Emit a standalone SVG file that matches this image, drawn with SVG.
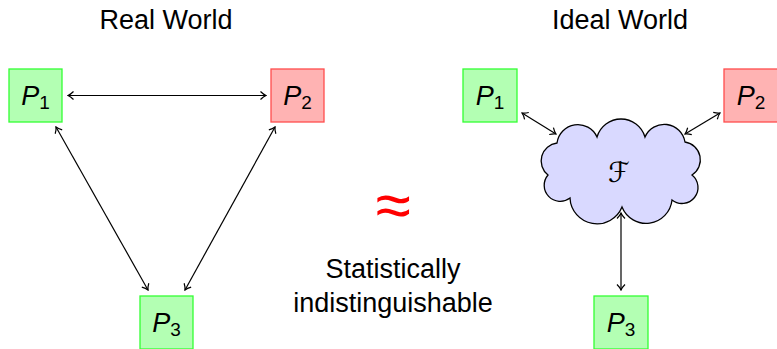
<svg xmlns="http://www.w3.org/2000/svg" width="777" height="349" viewBox="0 0 777 349">
<style>
text{font-family:"Liberation Sans","DejaVu Sans",sans-serif;fill:#000}
.title,.lbl{font-size:27px;text-anchor:middle}
.p{font-size:27px;text-anchor:middle}
.p .v{font-style:italic}
.p .s{font-size:19px}
.g{fill:#b3ffb3;stroke:#33ff33;stroke-width:1.3}
.r{fill:#ffb3b3;stroke:#ff4d4d;stroke-width:1.3}
.cloud{fill:#d9d9ff;stroke:#000;stroke-width:1.3}
.c{fill:none;stroke:#000;stroke-width:1.2}
</style>
<defs>
<marker id="ah" viewBox="-7 -5 8 10" refX="0" refY="0" markerWidth="8" markerHeight="10" markerUnits="userSpaceOnUse" orient="auto-start-reverse">
<path d="M-5.5,-4 C-3,-1.5 -1,-0.4 0,0 C-1,0.4 -3,1.5 -5.5,4" fill="none" stroke="#000" stroke-width="1.2"/>
</marker>
</defs>
<text class="title" x="166" y="29">Real World</text>
<text class="title" x="620" y="29">Ideal World</text>
<g id="connectors">
<line class="c" x1="68" y1="95.5" x2="266" y2="95.5" marker-start="url(#ah)" marker-end="url(#ah)"/>
<line class="c" x1="56" y1="127" x2="148" y2="290" marker-start="url(#ah)" marker-end="url(#ah)"/>
<line class="c" x1="275" y1="127" x2="185" y2="290" marker-start="url(#ah)" marker-end="url(#ah)"/>
<line class="c" x1="522" y1="113" x2="556" y2="134" marker-start="url(#ah)" marker-end="url(#ah)"/>
<line class="c" x1="720" y1="113" x2="685" y2="134" marker-start="url(#ah)" marker-end="url(#ah)"/>
<line class="c" x1="621" y1="213" x2="621" y2="290" marker-start="url(#ah)" marker-end="url(#ah)"/>
</g>
<g id="real-p1"><rect class="g" x="9" y="69" width="53" height="53"/><text class="p" x="35.5" y="105"><tspan class="v">P</tspan><tspan class="s" dy="4">1</tspan></text></g>
<g id="real-p2"><rect class="r" x="271" y="69" width="53" height="53"/><text class="p" x="297.5" y="105"><tspan class="v">P</tspan><tspan class="s" dy="4">2</tspan></text></g>
<g id="real-p3"><rect class="g" x="140" y="296" width="53" height="53"/><text class="p" x="166.5" y="332"><tspan class="v">P</tspan><tspan class="s" dy="4">3</tspan></text></g>
<g id="ideal-p1"><rect class="g" x="463" y="69" width="54" height="53"/><text class="p" x="490" y="105"><tspan class="v">P</tspan><tspan class="s" dy="4">1</tspan></text></g>
<g id="ideal-p2"><rect class="r" x="724" y="69" width="54" height="53"/><text class="p" x="751" y="105"><tspan class="v">P</tspan><tspan class="s" dy="4">2</tspan></text></g>
<g id="ideal-p3"><rect class="g" x="594" y="296" width="54" height="53"/><text class="p" x="621" y="332"><tspan class="v">P</tspan><tspan class="s" dy="4">3</tspan></text></g>
<g id="functionality">
<path class="cloud" d="M557,143 A21,21 0 0 1 597,137 A25,25 0 0 1 645,137 A21,21 0 0 1 685,142 A18,18 0 0 1 692,175 A16,16 0 0 1 672,200 A26,26 0 0 1 622,207 A27,27 0 0 1 570,198 A16,16 0 0 1 548,175 A18,18 0 0 1 557,143 Z"/>
<text x="619" y="182" style="font-family:'DejaVu Sans',sans-serif;font-size:28px;text-anchor:middle">ℱ</text>
</g>
<text x="393" y="227" style="font-family:'DejaVu Sans',sans-serif;font-weight:200;font-size:64px;fill:#ff0000;text-anchor:middle">≈</text>
<text class="lbl" x="393" y="278">Statistically</text>
<text class="lbl" x="393" y="312">indistinguishable</text>
</svg>
